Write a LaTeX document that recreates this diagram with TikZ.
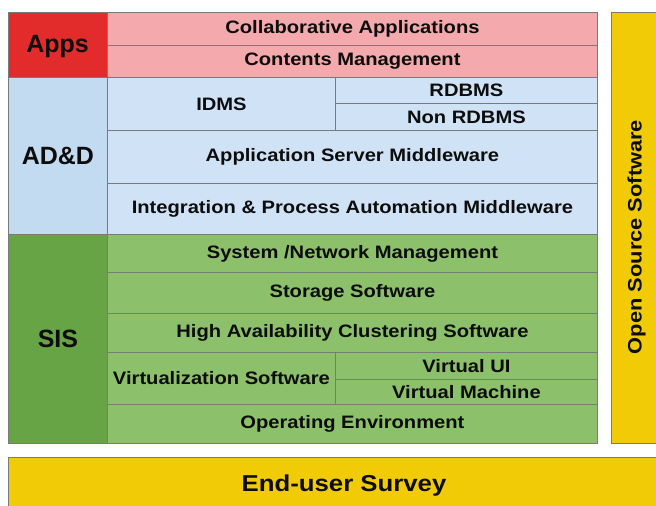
\documentclass[tikz,border=0pt]{standalone}
\usepackage{fontspec}
\newfontfamily\rowfont{Liberation Sans}[FakeStretch=1.12]
\newfontfamily\labfont{Liberation Sans}
\definecolor{appsred}{HTML}{E22B2B}
\definecolor{appspink}{HTML}{F4A9AC}
\definecolor{adlab}{HTML}{C3DBF1}
\definecolor{adrow}{HTML}{D0E3F6}
\definecolor{sislab}{HTML}{66A445}
\definecolor{sisrow}{HTML}{8DC06B}
\definecolor{yel}{HTML}{F1CB06}
\definecolor{bord}{HTML}{7A7A7A}
\tikzset{
  cell/.style={draw=bord, line width=0.9pt, inner sep=0pt, anchor=north west, align=center, font=\rowfont\bfseries\fontsize{18}{20}\selectfont, text=black!95},
  lab/.style={cell, font=\labfont\bfseries\fontsize{25}{27}\selectfont},
  labtext/.style={font=\labfont\bfseries\fontsize{25}{27}\selectfont, text=black!95, inner sep=0pt},
}
\begin{document}
\begin{tikzpicture}[x=1pt,y=-1pt]
\clip (0,0) rectangle (656,506);
\fill[white] (0,0) rectangle (656,506);
% Apps
\node[lab, fill=appsred, minimum width=99pt, minimum height=65pt] (apps) at (8,12) {};
\node[labtext] (appst) at (57.5,46) {Apps};
\node[cell, fill=appspink, minimum width=490pt, minimum height=33pt] (collab) at (107,12) {Collaborative Applications};
\node[cell, fill=appspink, minimum width=490pt, minimum height=32pt] (contents) at (107,45) {Contents Management};
% AD&D
\node[lab, fill=adlab, minimum width=99pt, minimum height=157pt] (add) at (8,77) {AD\&D};
\node[cell, fill=adrow, minimum width=228pt, minimum height=53pt] (idms) at (107,77) {IDMS};
\node[cell, fill=adrow, minimum width=262pt, minimum height=26pt] (rdbms) at (335,77) {RDBMS};
\node[cell, fill=adrow, minimum width=262pt, minimum height=27pt] (nonrdbms) at (335,103) {Non RDBMS};
\node[cell, fill=adrow, minimum width=490pt, minimum height=53pt] (appserver) at (107,130) {Application Server Middleware};
\node[cell, fill=adrow, minimum width=490pt, minimum height=51pt] (integ) at (107,183) {Integration \& Process Automation Middleware};
% SIS
\node[lab, fill=sislab, minimum width=99pt, minimum height=209pt] (sis) at (8,234) {SIS};
\node[cell, fill=sisrow, minimum width=490pt, minimum height=38pt] (sysnet) at (107,234) {System /Network Management};
\node[cell, fill=sisrow, minimum width=490pt, minimum height=41pt] (storage) at (107,272) {Storage Software};
\node[cell, fill=sisrow, minimum width=490pt, minimum height=39pt] (ha) at (107,313) {High Availability Clustering Software};
\node[cell, fill=sisrow, minimum width=228pt, minimum height=52pt] (virt) at (107,352) {Virtualization Software};
\node[cell, fill=sisrow, minimum width=262pt, minimum height=27pt] (vui) at (335,352) {Virtual UI};
\node[cell, fill=sisrow, minimum width=262pt, minimum height=25pt] (vm) at (335,379) {Virtual Machine};
\node[cell, fill=sisrow, minimum width=490pt, minimum height=39pt] (os) at (107,404) {Operating Environment};
% Open source
\node[cell, fill=yel, minimum width=54pt, minimum height=431pt] (oss) at (611,12) {};
\node[font=\rowfont\bfseries\fontsize{19.5}{21}\selectfont, rotate=90, text=black!95] (osst) at (636.5,237) {Open Source Software};
% End-user survey
\node[cell, fill=yel, minimum width=680pt, minimum height=70pt] (eus) at (8,457) {};
\node[font=\rowfont\bfseries\fontsize{23}{25}\selectfont, text=black!95] (eust) at (344,486) {End-user Survey};
\end{tikzpicture}
\end{document}
